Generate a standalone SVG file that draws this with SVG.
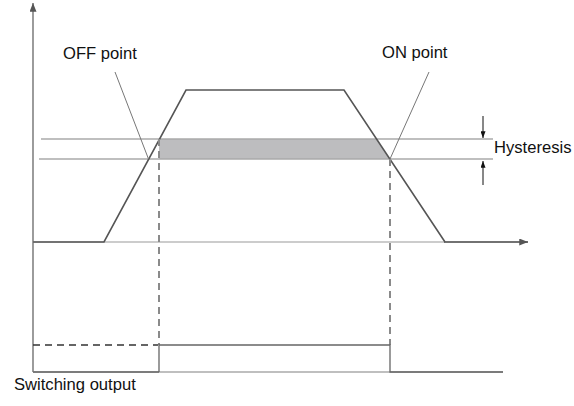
<svg xmlns="http://www.w3.org/2000/svg" width="574" height="406" viewBox="0 0 574 406">
<defs>
<style>
.t{font-family:"Liberation Sans",Arial,sans-serif;font-size:16.6px;fill:#111}
.ax{stroke:#666;stroke-width:1.3;fill:none}
.sig{stroke:#555;stroke-width:1.6;fill:none;stroke-linejoin:miter}
.hy{stroke:#aaa;stroke-width:1.5;fill:none}
.dash{stroke:#8a8a8a;stroke-width:2;stroke-dasharray:7,5;fill:none}
.lead{stroke:#777;stroke-width:1;fill:none}
.out{stroke:#666;stroke-width:1.3;fill:none}
</style>
<marker id="ah" viewBox="0 0 10 8" refX="10" refY="4" markerWidth="10" markerHeight="7" markerUnits="userSpaceOnUse" orient="auto"><path d="M0,0 L10,4 L0,8 Z" fill="#555"/></marker>
<marker id="sa" viewBox="0 0 8 6" refX="8" refY="3" markerWidth="8" markerHeight="5" markerUnits="userSpaceOnUse" orient="auto"><path d="M0,0 L8,3 L0,6 Z" fill="#111"/></marker>
</defs>
<g id="shade"><polygon points="159,139 376.6,139 390,159 159,159" fill="#bdbdbf"/></g>
<g id="hysteresis-lines">
<line class="hy" x1="41" y1="139" x2="493" y2="139"/>
<line class="hy" x1="39" y1="159" x2="493" y2="159"/>
</g>
<g id="axes">
<line class="ax" x1="33" y1="372" x2="33" y2="3" marker-end="url(#ah)"/>
<line x1="33" y1="242" x2="528" y2="242" stroke="#bbb" stroke-width="1.5"/>
<line class="sig" x1="444" y1="242" x2="528" y2="242" marker-end="url(#ah)"/>
<line x1="33" y1="372" x2="503" y2="372" stroke="#aaa" stroke-width="1.5"/>
</g>
<g id="signal"><polyline class="sig" points="33,242 104,242 186,90 344,90 445,242"/></g>
<g id="connectors">
<line class="dash" x1="159" y1="139" x2="159" y2="345"/>
<line class="dash" x1="390" y1="159" x2="390" y2="345"/>
<line class="lead" x1="115" y1="72" x2="148.5" y2="159"/>
<line class="lead" x1="429" y1="72" x2="390" y2="159"/>
<line stroke="#111" stroke-width="1" x1="483" y1="116" x2="483" y2="138" marker-end="url(#sa)"/>
<line stroke="#111" stroke-width="1" x1="483" y1="185" x2="483" y2="161" marker-end="url(#sa)"/>
</g>
<g id="output">
<line x1="33" y1="345" x2="158" y2="345" stroke="#333" stroke-width="1.4" stroke-dasharray="7,5"/>
<polyline class="out" points="33,372 159,372"/>
<polyline class="out" points="159,372 159,345 390,345 390,372 503,372"/>
</g>
<g id="labels">
<text class="t" x="63" y="59">OFF point</text>
<text class="t" x="382" y="58">ON point</text>
<text class="t" x="494" y="153">Hysteresis</text>
<text class="t" x="14" y="390">Switching output</text>
</g>
</svg>
